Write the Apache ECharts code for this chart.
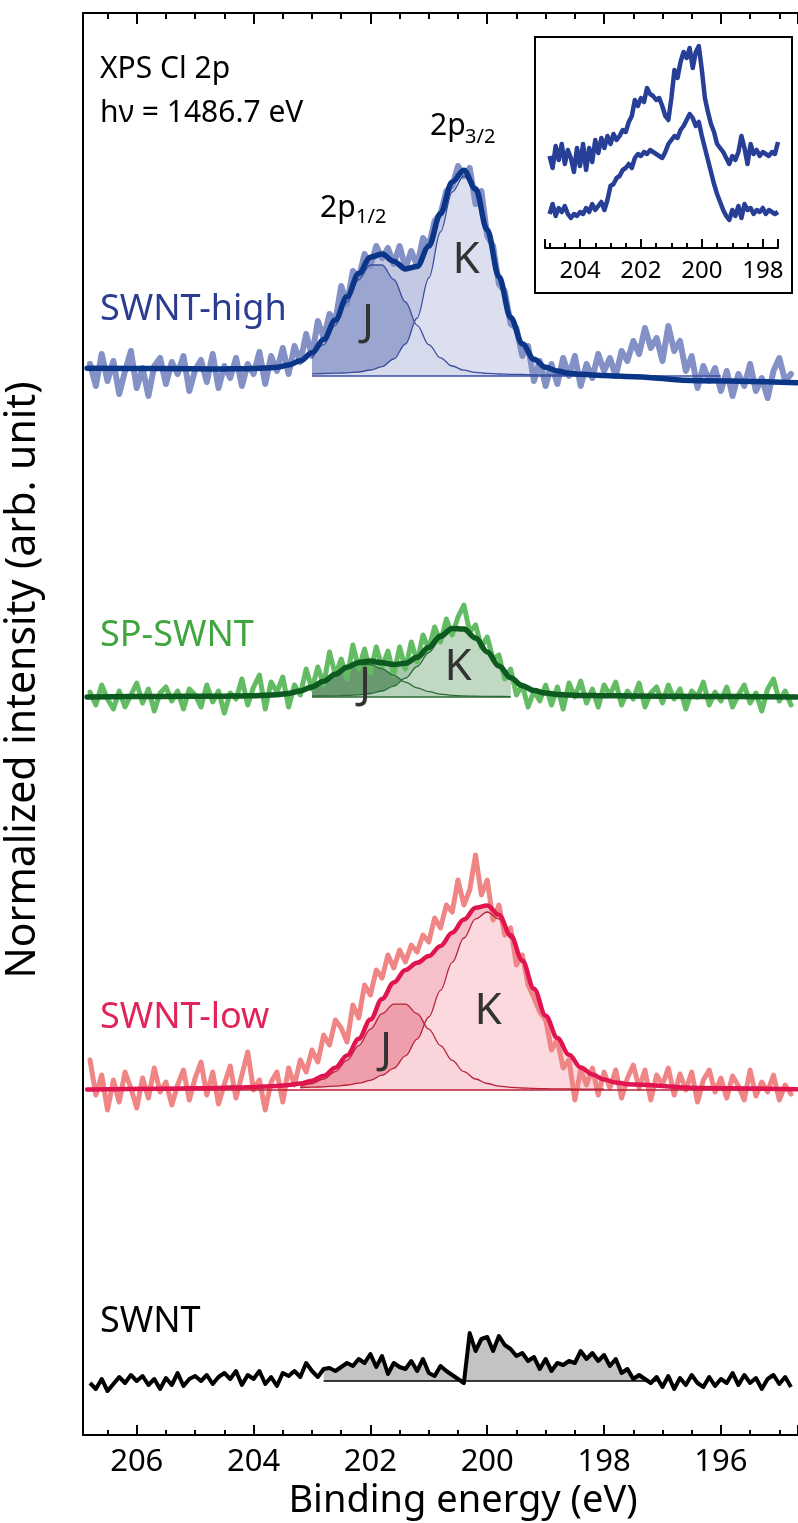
<!DOCTYPE html>
<html>
<head>
<meta charset="utf-8">
<script src="https://cdn.jsdelivr.net/npm/echarts@6/dist/echarts.min.js"></script>
<style>
html,body{margin:0;padding:0;background:#fff;}
#chart{width:798px;height:1523px;}
</style>
</head>
<body>
<div id="chart"></div>
<script>
// ================= DATA =================
// Raw spectra: binding energy from 206.8 eV down to 194.8 eV, every 0.1 eV
// (values = intensity above each spectrum's own baseline, arb. units)
const rawStart = 206.8, rawStep = 0.1;

const highRaw = [
  0.12, -0.10, 0.22, -0.05, 0.15, -0.18, 0.05, 0.25, -0.12, 0.08,
  -0.20, 0.10, 0.18, -0.08, 0.14, 0.02, 0.20, -0.15, 0.06, 0.16,
  -0.06, 0.22, -0.12, 0.10, -0.02, 0.18, -0.10, 0.12, 0.02, 0.24,
  -0.08, 0.20, 0.05, 0.28, 0.02, 0.30, 0.14, 0.42, 0.20, 0.55,
  0.38, 0.62, 0.55, 0.90, 0.72, 1.05, 0.98, 1.22, 1.10, 1.30,
  1.18, 1.28, 1.12, 1.30, 1.08, 1.25, 1.10, 1.38, 1.30, 1.55,
  1.62, 1.85, 1.90, 2.10, 2.00, 2.08, 1.72, 1.85, 1.40, 1.30,
  0.92, 0.85, 0.52, 0.48, 0.20, 0.30, -0.05, 0.15, -0.10, 0.12,
  -0.08, 0.18, 0.00, 0.20, -0.10, 0.12, -0.02, 0.22, 0.05, 0.18,
  0.00, 0.25, 0.15, 0.35, 0.22, 0.48, 0.28, 0.38, 0.15, 0.50,
  0.25, 0.35, 0.05, 0.20, -0.12, 0.10, -0.05, 0.08, -0.15, 0.05,
  -0.20, 0.02, -0.10, 0.12, -0.15, -0.02, -0.22, 0.05, 0.18, -0.05,
  0.02
];

const spRaw = [
  0.05, -0.08, 0.12, -0.02, -0.12, 0.06, -0.10, 0.02, 0.14, -0.06,
  0.08, -0.14, 0.04, 0.10, -0.04, 0.06, -0.12, 0.08, 0.02, -0.10,
  0.12, -0.05, 0.06, -0.16, 0.04, -0.02, 0.18, -0.08, 0.10, 0.22,
  -0.12, 0.15, 0.05, 0.20, -0.10, 0.12, 0.02, 0.28, 0.08, 0.30,
  0.12, 0.45, 0.22, 0.38, 0.18, 0.52, 0.28, 0.48, 0.24, 0.50,
  0.30, 0.46, 0.22, 0.50, 0.28, 0.55, 0.35, 0.62, 0.48, 0.70,
  0.55, 0.78, 0.62, 0.80, 0.92, 0.65, 0.72, 0.50, 0.60, 0.38,
  0.42, 0.18, 0.28, 0.02, 0.12, -0.10, 0.06, -0.04, 0.12, -0.08,
  0.10, -0.12, 0.14, 0.00, 0.16, -0.06, 0.08, -0.10, 0.12, 0.02,
  0.15, -0.08, 0.06, -0.02, 0.14, -0.10, 0.04, 0.10, -0.06, 0.12,
  -0.02, 0.08, -0.12, 0.06, 0.00, 0.15, -0.08, 0.05, -0.04, 0.10,
  -0.10, 0.02, 0.12, -0.06, 0.04, -0.14, 0.08, 0.18, -0.04, 0.06,
  -0.08
];

const lowRaw = [
  0.30, -0.05, 0.15, -0.20, 0.10, -0.12, 0.18, 0.02, -0.18, 0.12,
  -0.08, 0.22, -0.02, 0.08, -0.15, 0.05, 0.20, -0.10, 0.12, 0.28,
  -0.05, 0.18, -0.14, 0.06, 0.24, -0.08, 0.15, 0.38, 0.00, 0.10,
  -0.20, 0.08, 0.18, -0.12, 0.22, 0.05, 0.30, 0.18, 0.40, 0.28,
  0.55, 0.45, 0.70, 0.62, 0.48, 0.85, 0.72, 1.05, 0.95, 1.20,
  1.12, 1.35, 1.22, 1.40, 1.28, 1.45, 1.38, 1.55, 1.48, 1.72,
  1.62, 1.85, 1.78, 2.10, 1.85, 2.00, 2.35, 1.95, 2.10, 1.70,
  1.85, 1.55, 1.62, 1.25, 1.35, 1.05, 0.92, 0.78, 0.70, 0.40,
  0.50, 0.22, 0.30, -0.10, 0.20, 0.05, 0.22, -0.05, 0.18, 0.02,
  0.20, -0.08, 0.12, 0.25, 0.02, 0.20, -0.10, 0.15, 0.05, 0.22,
  -0.05, 0.16, 0.00, 0.18, -0.12, 0.10, 0.20, -0.02, 0.12, -0.08,
  0.14, 0.04, -0.10, 0.20, -0.06, 0.08, -0.02, 0.15, -0.10, 0.05,
  -0.04
];

const pristineRaw = [
  -0.02, -0.08, 0.02, -0.10, -0.03, 0.04, -0.02, 0.06, 0.00, 0.05,
  -0.04, 0.02, -0.08, 0.03, -0.04, 0.08, -0.05, 0.02, 0.05, 0.00,
  0.06, -0.03, 0.04, 0.08, 0.02, 0.10, -0.04, 0.06, 0.02, 0.10,
  -0.03, 0.04, -0.05, 0.08, 0.05, 0.10, 0.04, 0.18, 0.10, 0.04,
  0.12, 0.13, 0.10, 0.14, 0.18, 0.15, 0.22, 0.18, 0.27, 0.14,
  0.25, 0.07, 0.18, 0.14, 0.12, 0.20, 0.10, 0.22, 0.08, 0.05,
  0.15, 0.10, 0.06, 0.02, -0.02, 0.48, 0.30, 0.42, 0.44, 0.30,
  0.45, 0.36, 0.32, 0.25, 0.28, 0.20, 0.24, 0.12, 0.22, 0.10,
  0.18, 0.16, 0.20, 0.18, 0.30, 0.22, 0.28, 0.20, 0.26, 0.15,
  0.22, 0.08, 0.12, 0.02, 0.06, 0.02, -0.02, 0.04, -0.06, 0.05,
  -0.08, 0.03, -0.04, 0.06, -0.02, -0.06, 0.04, -0.05, 0.02, -0.02,
  0.08, -0.04, 0.06, -0.02, 0.03, -0.08, 0.02, 0.06, -0.03, 0.04,
  -0.06
];

// Fitted curves (envelope, J = 2p1/2, K = 2p3/2) read at these energies
const fitEnergy = [206.85, 205.6,
  204.6, 204.4, 204.2, 204.0, 203.8, 203.6, 203.4, 203.2, 203.0, 202.8,
  202.6, 202.4, 202.2, 202.0, 201.8, 201.6, 201.4, 201.2, 201.0, 200.8,
  200.6, 200.4, 200.2, 200.0, 199.8, 199.6, 199.4, 199.2, 199.0, 198.8,
  198.6, 198.4, 198.2, 198.0, 197.8, 197.6,
  196.4, 194.7];

const highFit = [0.078, 0.074,
  0.07, 0.072, 0.072, 0.074, 0.079, 0.088, 0.11, 0.152, 0.232, 0.366,
  0.56, 0.794, 1.025, 1.188, 1.219, 1.148, 1.071, 1.095, 1.30, 1.625,
  1.941, 2.057, 1.872, 1.46, 0.992, 0.586, 0.322, 0.167, 0.087, 0.05,
  0.028, 0.017, 0.011, 0.006, 0.0, -0.004,
  -0.048, -0.067];
const highJ = [0, 0.005,
  0.012, 0.015, 0.017, 0.02, 0.026, 0.036, 0.058, 0.10, 0.181, 0.314,
  0.507, 0.74, 0.965, 1.11, 1.11, 0.965, 0.74, 0.507, 0.314, 0.181,
  0.10, 0.058, 0.036, 0.026, 0.02, 0.017, 0.015, 0.012, 0.011, 0.01,
  0.01, 0.01, 0.01, 0.01, 0.01, 0.01,
  0.005, 0];
const highK = [0, 0.005,
  0.01, 0.011, 0.012, 0.013, 0.014, 0.016, 0.018, 0.02, 0.022, 0.025,
  0.028, 0.032, 0.04, 0.06, 0.094, 0.17, 0.32, 0.58, 0.98, 1.44,
  1.84, 2.0, 1.84, 1.44, 0.98, 0.58, 0.32, 0.17, 0.094, 0.06,
  0.04, 0.032, 0.028, 0.025, 0.022, 0.02,
  0.01, 0];

const spFit = [0.0, 0.005,
  0.008, 0.009, 0.011, 0.013, 0.017, 0.023, 0.036, 0.061, 0.101, 0.158,
  0.228, 0.298, 0.346, 0.359, 0.342, 0.325, 0.337, 0.397, 0.498, 0.61,
  0.685, 0.679, 0.589, 0.451, 0.31, 0.193, 0.113, 0.064, 0.039, 0.026,
  0.02, 0.016, 0.014, 0.013, 0.012, 0.011,
  0.005, 0.0];
const spJ = [0, 0.002,
  0.004, 0.005, 0.006, 0.008, 0.011, 0.017, 0.029, 0.053, 0.092, 0.148,
  0.216, 0.282, 0.324, 0.324, 0.282, 0.216, 0.148, 0.092, 0.053, 0.029,
  0.017, 0.011, 0.008, 0.006, 0.005, 0.004, 0.004, 0.004, 0.004, 0.004,
  0.004, 0.004, 0.004, 0.004, 0.004, 0.004,
  0.002, 0];
const spK = [0, 0.002,
  0.004, 0.004, 0.005, 0.005, 0.006, 0.006, 0.007, 0.008, 0.009, 0.01,
  0.012, 0.016, 0.022, 0.035, 0.06, 0.109, 0.189, 0.305, 0.445, 0.581,
  0.668, 0.668, 0.581, 0.445, 0.305, 0.189, 0.109, 0.06, 0.035, 0.022,
  0.016, 0.012, 0.01, 0.009, 0.008, 0.007,
  0.003, 0];

const lowFit = [0.005, 0.012,
  0.021, 0.024, 0.026, 0.029, 0.034, 0.04, 0.05, 0.064, 0.093, 0.142,
  0.223, 0.346, 0.512, 0.705, 0.911, 1.075, 1.20, 1.272, 1.339, 1.441,
  1.572, 1.704, 1.822, 1.845, 1.751, 1.547, 1.296, 1.013, 0.743, 0.52,
  0.352, 0.226, 0.156, 0.104, 0.076, 0.058,
  0.02, 0.008];
const lowJ = [0, 0.005,
  0.009, 0.010, 0.011, 0.013, 0.016, 0.02, 0.027, 0.039, 0.065, 0.11,
  0.184, 0.296, 0.444, 0.609, 0.763, 0.858, 0.858, 0.763, 0.609, 0.444,
  0.296, 0.184, 0.11, 0.065, 0.039, 0.027, 0.02, 0.016, 0.013, 0.011,
  0.01, 0.009, 0.008, 0.008, 0.008, 0.008,
  0.004, 0];
const lowK = [0, 0.006,
  0.012, 0.014, 0.015, 0.016, 0.018, 0.02, 0.023, 0.025, 0.028, 0.032,
  0.039, 0.05, 0.068, 0.096, 0.148, 0.217, 0.342, 0.509, 0.73, 0.997,
  1.276, 1.52, 1.712, 1.78, 1.712, 1.52, 1.276, 0.997, 0.73, 0.509,
  0.342, 0.217, 0.148, 0.096, 0.068, 0.05,
  0.016, 0.006];

// Inset spectra: 205.0 eV down to 197.5 eV, every 0.1 eV
const insetStart = 205.0, insetStep = 0.1;
const insetUpper = [
  92, 80, 102, 88, 104, 84, 98, 90, 76, 100,
  82, 104, 78, 100, 86, 108, 95, 110, 100, 112,
  104, 114, 108, 112, 118, 116, 126, 132, 148, 142,
  150, 146, 160, 154, 152, 148, 150, 142, 132, 128,
  150, 178, 170, 186, 196, 190, 200, 180, 196, 202,
  178, 150, 136, 124, 116, 104, 100, 96, 90, 84,
  92, 88, 96, 112, 100, 84, 104, 94, 98, 92,
  96, 94, 92, 96, 94, 106
];
const insetLower = [
  34, 44, 32, 40, 36, 42, 34, 30, 34, 32,
  36, 34, 40, 36, 44, 38, 42, 46, 38, 48,
  62, 64, 70, 72, 78, 80, 84, 80, 90, 94,
  92, 96, 94, 98, 96, 94, 92, 90, 96, 104,
  108, 112, 110, 118, 122, 128, 134, 130, 122, 126,
  112, 100, 88, 76, 64, 54, 46, 38, 32, 28,
  38, 32, 42, 30, 44, 38, 40, 34, 38, 36,
  40, 34, 38, 36, 34, 36
];

const sampleNames = ['SWNT-high', 'SP-SWNT', 'SWNT-low', 'SWNT'];
const offsets = [10.59, 7.38, 3.45, 0.54];              // vertical stacking offsets
const fillRanges = [[203.0, 198.6], [203.0, 199.6], [203.2, 198.0], [202.8, 197.1]];
const baselineRanges = [[203.0, 196.0], [203.0, 199.6], [206.85, 194.7], [202.8, 197.1]];
const peakLabels = ['J', 'K'];
const xAxisTitle = 'Binding energy (eV)';
const yAxisTitle = 'Normalized intensity (arb. unit)';

// ================= STYLES =================
const FONT = '"Noto Sans", "Open Sans", sans-serif';
const styles = [
  {label:'#2b3c91', raw:'#8391c6', rawW:6, fit:'#0b3587', fitW:5.5, comp:'#3a4d9f', env:'#c3c9e3', jFill:'#9ba6d0', kFill:'#dfe3f1'},
  {label:'#3fa53f', raw:'#63bc63', rawW:5, fit:'#0c5a1f', fitW:5.5, comp:'#2c6a35', env:'#a6c7aa', jFill:'#68996f', kFill:'#c6dcc8'},
  {label:'#e1245a', raw:'#f08585', rawW:5, fit:'#e0144f', fitW:4.5, comp:'#b92136', env:'#f5c0c9', jFill:'#ef9fab', kFill:'#fbdde3'}
];

// ================= BUILD =================
const rawE = i => +(rawStart - i * rawStep).toFixed(2);
const insetE = i => +(insetStart - i * insetStep).toFixed(2);
const inRange = (data, r) => data.filter(p => p[0] <= r[0] + 1e-6 && p[0] >= r[1] - 1e-6);
const base = {type:'line', xAxisIndex:0, yAxisIndex:0, symbol:'none', showSymbol:false, animation:false, silent:true};

function fitted(k, raw, fit, J, K) {
  const st = styles[k], off = offsets[k], r = fillRanges[k], b = baselineRanges[k];
  const fitData = fitEnergy.map((e, i) => [e, fit[i] + off]);
  const jData = inRange(fitEnergy.map((e, i) => [e, J[i] + off]), r);
  const kData = inRange(fitEnergy.map((e, i) => [e, K[i] + off]), r);
  const sm = {smooth:0.35, smoothMonotone:'x'};
  return [
    Object.assign({}, base, sm, {data: inRange(fitData, r), lineStyle:{width:0}, areaStyle:{color:st.env, opacity:1, origin:off}, z:1}),
    Object.assign({}, base, sm, {data: jData, lineStyle:{width:0}, areaStyle:{color:st.jFill, opacity:1, origin:off}, z:2}),
    Object.assign({}, base, sm, {data: kData, lineStyle:{width:0}, areaStyle:{color:st.kFill, opacity:0.85, origin:off}, z:3}),
    Object.assign({}, base, {data: raw.map((v, i) => [rawE(i), v + off]), lineStyle:{color:st.raw, width:st.rawW, join:'round', cap:'round'}, z:4}),
    Object.assign({}, base, sm, {data: jData, lineStyle:{color:st.comp, width:1.3}, z:5}),
    Object.assign({}, base, sm, {data: kData, lineStyle:{color:st.comp, width:1.3}, z:5}),
    Object.assign({}, base, {data: [[b[0], off], [b[1], off]], lineStyle:{color:st.comp, width:1.5}, z:5}),
    Object.assign({}, base, sm, {data: fitData, lineStyle:{color:st.fit, width:st.fitW, cap:'round'}, z:6})
  ];
}

const series = [].concat(
  fitted(0, highRaw, highFit, highJ, highK),
  fitted(1, spRaw, spFit, spJ, spK),
  fitted(2, lowRaw, lowFit, lowJ, lowK)
);
// pristine SWNT
const pOff = offsets[3];
const pData = pristineRaw.map((v, i) => [rawE(i), v + pOff]);
series.push(Object.assign({}, base, {data: inRange(pData, fillRanges[3]), lineStyle:{width:0}, areaStyle:{color:'#c3c3c3', opacity:1, origin:pOff}, z:1}));
series.push(Object.assign({}, base, {data: [[baselineRanges[3][0], pOff], [baselineRanges[3][1], pOff]], lineStyle:{color:'#000', width:1.5}, z:2}));
series.push(Object.assign({}, base, {data: pData, lineStyle:{color:'#000', width:4, join:'round'}, z:3}));
// inset
const insetColor = '#273f96';
series.push(Object.assign({}, base, {xAxisIndex:2, yAxisIndex:1, data: insetUpper.map((v, i) => [insetE(i), v]), lineStyle:{color:insetColor, width:4.5, join:'round'}, z:4}));
series.push(Object.assign({}, base, {xAxisIndex:2, yAxisIndex:1, data: insetLower.map((v, i) => [insetE(i), v]), lineStyle:{color:insetColor, width:4.5, join:'round'}, z:4}));

function txt(text, x, y, size, color, align, extra) {
  return Object.assign({
    type:'text', x:x, y:y, z:100, silent:true,
    style:{text:text, fill:color || '#000', fontSize:size, fontFamily:FONT,
      align:align || 'left', verticalAlign:'middle', textAlign:align || 'left', textVerticalAlign:'middle'}
  }, extra || {});
}

const graphic = [
  {type:'rect', z:50, silent:true, shape:{x:535, y:37, width:257, height:256}, style:{fill:'none', stroke:'#000', lineWidth:2}},
  txt('XPS Cl 2p', 100, 69, 30),
  txt('hν = 1486.7 eV', 100, 113, 30),
  txt('2p', 320, 208, 30), txt('1/2', 356, 217, 20),
  txt('2p', 430, 126, 30), txt('3/2', 465, 137, 20),
  txt(sampleNames[0], 100, 310, 36, styles[0].label),
  txt(sampleNames[1], 100, 636, 36, styles[1].label),
  txt(sampleNames[2], 100, 1018, 36, styles[2].label),
  txt(sampleNames[3], 100, 1322, 36, '#000'),
  txt(peakLabels[0], 368, 322, 44, '#333', 'center'),
  txt(peakLabels[1], 466, 260, 44, '#333', 'center'),
  txt(peakLabels[0], 365, 685, 44, '#333', 'center'),
  txt(peakLabels[1], 458, 667, 44, '#333', 'center'),
  txt(peakLabels[0], 386, 1050, 44, '#333', 'center'),
  txt(peakLabels[1], 488, 1011, 44, '#333', 'center'),
  txt(xAxisTitle, 463, 1501, 38, '#000', 'center'),
  txt(yAxisTitle, 23, 680, 41, '#000', 'center', {rotation: Math.PI / 2})
];

const axisLineStyle = {color:'#000', width:2};
const option = {
  backgroundColor:'#fff',
  animation:false,
  grid:[
    {left:83, top:13, right:0, bottom:88, containLabel:false, outerBoundsMode:'none'},
    {left:545, top:38, width:233, height:210, containLabel:false, outerBoundsMode:'none'}
  ],
  xAxis:[
    {type:'value', gridIndex:0, position:'bottom', min:194.68, max:206.92, inverse:true, splitNumber:5,
     axisLine:{show:true, onZero:false, lineStyle:axisLineStyle},
     axisTick:{show:true, inside:true, length:10, lineStyle:axisLineStyle},
     minorTick:{show:true, splitNumber:4, length:5, lineStyle:axisLineStyle},
     axisLabel:{show:true, color:'#000', fontSize:31, fontFamily:FONT, margin:12, showMinLabel:false, showMaxLabel:false},
     splitLine:{show:false}, minorSplitLine:{show:false}},
    {type:'value', gridIndex:0, position:'top', min:194.68, max:206.92, inverse:true, splitNumber:5,
     axisLine:{show:true, onZero:false, lineStyle:axisLineStyle},
     axisTick:{show:true, inside:true, length:11, lineStyle:axisLineStyle},
     minorTick:{show:true, splitNumber:4, length:6, lineStyle:axisLineStyle},
     axisLabel:{show:false}, splitLine:{show:false}, minorSplitLine:{show:false}},
    {type:'value', gridIndex:1, position:'bottom', min:197.5, max:205.15, inverse:true, splitNumber:5,
     axisLine:{show:true, onZero:false, lineStyle:axisLineStyle},
     axisTick:{show:true, inside:true, length:9, lineStyle:axisLineStyle},
     minorTick:{show:true, splitNumber:4, length:5, lineStyle:axisLineStyle},
     axisLabel:{show:true, color:'#000', fontSize:24, fontFamily:FONT, margin:11, showMinLabel:false, showMaxLabel:false},
     splitLine:{show:false}, minorSplitLine:{show:false}}
  ],
  yAxis:[
    {type:'value', gridIndex:0, min:0, max:14.22,
     axisLine:{show:true, onZero:false, lineStyle:axisLineStyle},
     axisTick:{show:false}, axisLabel:{show:false}, splitLine:{show:false}},
    {type:'value', gridIndex:1, min:0, max:210, show:false,
     axisLine:{show:false}, axisTick:{show:false}, axisLabel:{show:false}, splitLine:{show:false}}
  ],
  series: series,
  graphic: graphic
};

const chart = echarts.init(document.getElementById('chart'), null, {renderer:'canvas', width:798, height:1523});
chart.setOption(option);
</script>
</body>
</html>
